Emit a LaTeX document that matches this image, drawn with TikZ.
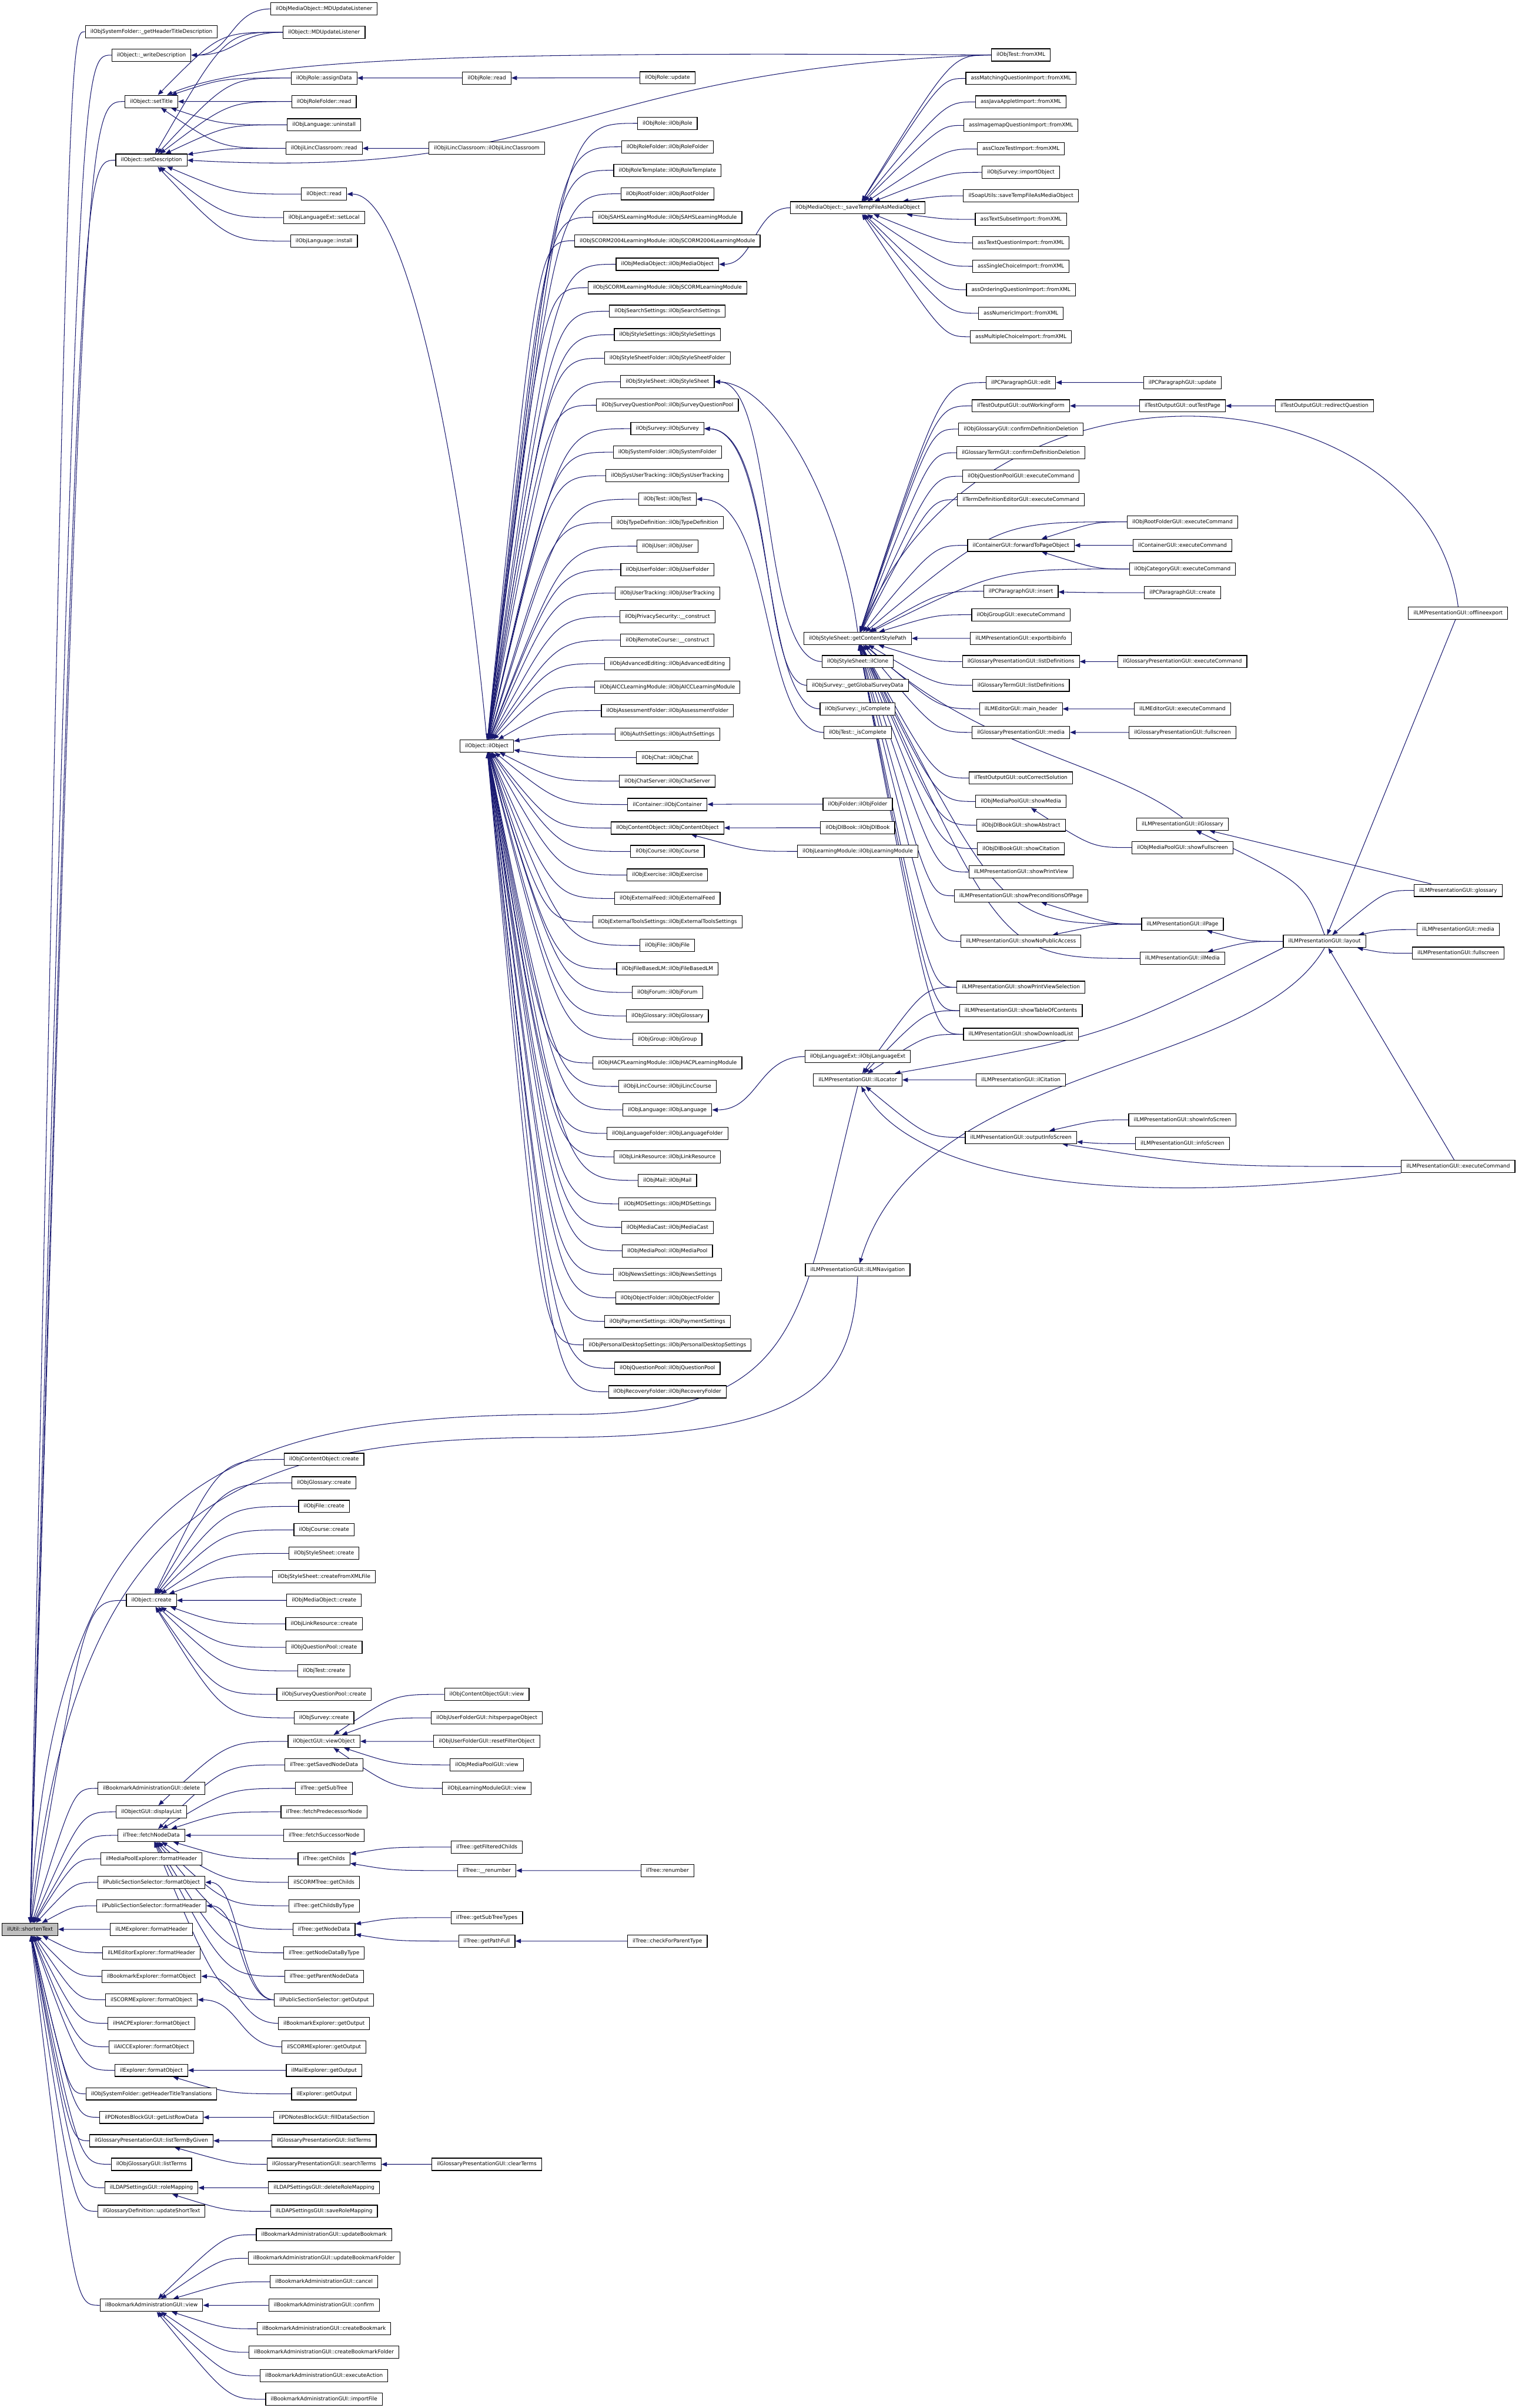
\documentclass[tikz,border=0pt]{standalone}
\usepackage{fontspec}
\usepackage{tikz}
\usetikzlibrary{arrows.meta,calc,backgrounds}
\newfontfamily\dxsans{DejaVu Sans}
\definecolor{dxEdge}{RGB}{25,25,112}
\definecolor{dxRoot}{RGB}{191,191,191}
\tikzset{
  fn/.style={draw=black, line width=0.45pt, fill=white, inner xsep=3.3pt, inner ysep=0pt,
    minimum height=8pt, text height=2.6pt, text depth=0.7pt,
    font=\dxsans\fontsize{3.4pt}{4pt}\selectfont},
  rootfn/.style={fn, fill=dxRoot},
  call/.style={dxEdge, line width=0.4pt, -{Triangle[length=3.6pt,width=2.8pt]}}
}

\begin{document}
\begin{tikzpicture}[x=1pt, y=-1pt]
  \useasboundingbox (0,0) rectangle (991,1568);

  % Root
  \node[rootfn] (root) at (19.5,1256.3) {ilUtil::shortenText};

  % Direct callers
  \node[fn] (sfh) at (98.6,20.6) {ilObjSystemFolder::\_getHeaderTitleDescription};
  \node[fn] (owd) at (98.6,35.9) {ilObject::\_writeDescription};
  \node[fn] (ost) at (98.6,66.1) {ilObject::setTitle};
  \node[fn] (osd) at (98.6,104.3) {ilObject::setDescription};
  \node[fn] (ocr) at (98.6,1042.1) {ilObject::create};
  \foreach \lbl [count=\i] in {ilBookmarkAdministrationGUI::delete, ilObjectGUI::displayList,
      ilTree::fetchNodeData, ilMediaPoolExplorer::formatHeader, ilPublicSectionSelector::formatObject,
      ilPublicSectionSelector::formatHeader, ilLMExplorer::formatHeader, ilLMEditorExplorer::formatHeader,
      ilBookmarkExplorer::formatObject, ilSCORMExplorer::formatObject, ilHACPExplorer::formatObject,
      ilAICCExplorer::formatObject, ilExplorer::formatObject, ilObjSystemFolder::getHeaderTitleTranslations,
      ilPDNotesBlockGUI::getListRowData, ilGlossaryPresentationGUI::listTermByGiven,
      ilObjGlossaryGUI::listTerms, ilLDAPSettingsGUI::roleMapping, ilGlossaryDefinition::updateShortText}
    \node[fn] (a\i) at (98.6,{950.3+(\i+13)*15.3}) {\lbl};
  \node[fn] (bav) at (98.6,1501.1) {ilBookmarkAdministrationGUI::view};

  % Second level, top
  \node[fn] (momd) at (211,5.8) {ilObjMediaObject::MDUpdateListener};
  \node[fn] (omd) at (211,21) {ilObject::MDUpdateListener};
  \node[fn] (rad) at (211,50.8) {ilObjRole::assignData};
  \node[fn] (rfr) at (211,66.1) {ilObjRoleFolder::read};
  \node[fn] (lun) at (211,81.3) {ilObjLanguage::uninstall};
  \node[fn] (lcr) at (211,96.6) {ilObjiLincClassroom::read};
  \node[fn] (ord) at (211,126.4) {ilObject::read};
  \node[fn] (lsl) at (211,141.7) {ilObjLanguageExt::setLocal};
  \node[fn] (lin) at (211,157) {ilObjLanguage::install};

  % Second level, bottom
  \foreach \lbl [count=\i] in {ilObjContentObject::create, ilObjGlossary::create, ilObjFile::create,
      ilObjCourse::create, ilObjStyleSheet::create, ilObjStyleSheet::createFromXMLFile,
      ilObjMediaObject::create, ilObjLinkResource::create, ilObjQuestionPool::create,
      ilObjTest::create, ilObjSurveyQuestionPool::create, ilObjSurvey::create}
    \node[fn] (k\i) at (211,{950.3+(\i-1)*15.3}) {\lbl};
  \node[fn] (gvo) at (211,1133.9) {ilObjectGUI::viewObject};
  \foreach \lbl [count=\i] in {ilTree::getSavedNodeData, ilTree::getSubTree, ilTree::fetchPredecessorNode,
      ilTree::fetchSuccessorNode, ilTree::getChilds, ilSCORMTree::getChilds, ilTree::getChildsByType,
      ilTree::getNodeData, ilTree::getNodeDataByType, ilTree::getParentNodeData}
    \node[fn] (t\i) at (211,{950.3+(\i+12)*15.3}) {\lbl};
  \foreach \lbl [count=\i] in {ilPublicSectionSelector::getOutput, ilBookmarkExplorer::getOutput,
      ilSCORMExplorer::getOutput, ilMailExplorer::getOutput, ilExplorer::getOutput,
      ilPDNotesBlockGUI::fillDataSection, ilGlossaryPresentationGUI::listTerms,
      ilGlossaryPresentationGUI::searchTerms, ilLDAPSettingsGUI::deleteRoleMapping,
      ilLDAPSettingsGUI::saveRoleMapping}
    \node[fn] (g\i) at (211,{950.3+(\i+22)*15.3}) {\lbl};
  \foreach \lbl [count=\i] in {updateBookmark, updateBookmarkFolder, cancel, confirm, createBookmark,
      createBookmarkFolder, executeAction, importFile}
    \node[fn] (b\i) at (211,{950.3+(\i+32)*15.3}) {ilBookmarkAdministrationGUI::\lbl};

  % Third level
  \node[fn] (rrd) at (317,50.8) {ilObjRole::read};
  \node[fn] (lcc) at (317,96.6) {ilObjiLincClassroom::ilObjiLincClassroom};
  \node[fn] (oo) at (317,485.7) {ilObject::ilObject};
  \foreach \lbl [count=\i] in {ilObjContentObjectGUI::view, ilObjUserFolderGUI::hitsperpageObject,
      ilObjUserFolderGUI::resetFilterObject, ilObjMediaPoolGUI::view, ilObjLearningModuleGUI::view}
    \node[fn] (v\i) at (317,{950.3+(\i+9)*15.3}) {\lbl};
  \node[fn] (tgf) at (317,1202.75) {ilTree::getFilteredChilds};
  \node[fn] (trn) at (317,1218.05) {ilTree::\_\_renumber};
  \node[fn] (tsb) at (317,1248.65) {ilTree::getSubTreeTypes};
  \node[fn] (tpf) at (317,1263.95) {ilTree::getPathFull};
  \node[fn] (gpct) at (317,1409.3) {ilGlossaryPresentationGUI::clearTerms};

  % Fourth level: constructors
  \node[fn] (rup) at (434.6,50.7) {ilObjRole::update};
  \foreach \lbl [count=\i] in {ilObjRole::ilObjRole, ilObjRoleFolder::ilObjRoleFolder,
      ilObjRoleTemplate::ilObjRoleTemplate, ilObjRootFolder::ilObjRootFolder,
      ilObjSAHSLearningModule::ilObjSAHSLearningModule,
      ilObjSCORM2004LearningModule::ilObjSCORM2004LearningModule,
      ilObjMediaObject::ilObjMediaObject, ilObjSCORMLearningModule::ilObjSCORMLearningModule,
      ilObjSearchSettings::ilObjSearchSettings, ilObjStyleSettings::ilObjStyleSettings,
      ilObjStyleSheetFolder::ilObjStyleSheetFolder, ilObjStyleSheet::ilObjStyleSheet,
      ilObjSurveyQuestionPool::ilObjSurveyQuestionPool, ilObjSurvey::ilObjSurvey,
      ilObjSystemFolder::ilObjSystemFolder, ilObjSysUserTracking::ilObjSysUserTracking,
      ilObjTest::ilObjTest, ilObjTypeDefinition::ilObjTypeDefinition, ilObjUser::ilObjUser,
      ilObjUserFolder::ilObjUserFolder, ilObjUserTracking::ilObjUserTracking,
      ilObjPrivacySecurity::\_\_construct, ilObjRemoteCourse::\_\_construct,
      ilObjAdvancedEditing::ilObjAdvancedEditing, ilObjAICCLearningModule::ilObjAICCLearningModule,
      ilObjAssessmentFolder::ilObjAssessmentFolder, ilObjAuthSettings::ilObjAuthSettings,
      ilObjChat::ilObjChat, ilObjChatServer::ilObjChatServer, ilContainer::ilObjContainer,
      ilObjContentObject::ilObjContentObject, ilObjCourse::ilObjCourse, ilObjExercise::ilObjExercise,
      ilObjExternalFeed::ilObjExternalFeed, ilObjExternalToolsSettings::ilObjExternalToolsSettings,
      ilObjFile::ilObjFile, ilObjFileBasedLM::ilObjFileBasedLM, ilObjForum::ilObjForum,
      ilObjGlossary::ilObjGlossary, ilObjGroup::ilObjGroup,
      ilObjHACPLearningModule::ilObjHACPLearningModule, ilObjiLincCourse::ilObjiLincCourse,
      ilObjLanguage::ilObjLanguage, ilObjLanguageFolder::ilObjLanguageFolder,
      ilObjLinkResource::ilObjLinkResource, ilObjMail::ilObjMail, ilObjMDSettings::ilObjMDSettings,
      ilObjMediaCast::ilObjMediaCast, ilObjMediaPool::ilObjMediaPool,
      ilObjNewsSettings::ilObjNewsSettings, ilObjObjectFolder::ilObjObjectFolder,
      ilObjPaymentSettings::ilObjPaymentSettings,
      ilObjPersonalDesktopSettings::ilObjPersonalDesktopSettings,
      ilObjQuestionPool::ilObjQuestionPool, ilObjRecoveryFolder::ilObjRecoveryFolder}
    \node[fn] (c\i) at (434.6,{80.3+(\i-1)*15.296}) {\lbl};
  \node[fn] (trr) at (434.6,1218.05) {ilTree::renumber};
  \node[fn] (tcp) at (434.6,1263.95) {ilTree::checkForParentType};

  % Fifth level
  \node[fn] (smo) at (558.5,135.3) {ilObjMediaObject::\_saveTempFileAsMediaObject};
  \node[fn] (csp) at (558.5,415.7) {ilObjStyleSheet::getContentStylePath};
  \node[fn] (scl) at (558.5,430.8) {ilObjStyleSheet::ilClone};
  \node[fn] (sgs) at (558.5,446.2) {ilObjSurvey::\_getGlobalSurveyData};
  \node[fn] (sic) at (558.5,461.6) {ilObjSurvey::\_isComplete};
  \node[fn] (tic) at (558.5,476.9) {ilObjTest::\_isComplete};
  \node[fn] (ofo) at (558.5,523.6) {ilObjFolder::ilObjFolder};
  \node[fn] (odb) at (558.5,539) {ilObjDlBook::ilObjDlBook};
  \node[fn] (olm) at (558.5,554.4) {ilObjLearningModule::ilObjLearningModule};
  \node[fn] (lxe) at (558.5,688) {ilObjLanguageExt::ilObjLanguageExt};
  \node[fn] (loc) at (558.5,703.2) {ilLMPresentationGUI::ilLocator};
  \node[fn] (nav) at (558.5,827) {ilLMPresentationGUI::ilLMNavigation};

  % Sixth level
  \foreach \lbl [count=\i] in {ilObjTest::fromXML, assMatchingQuestionImport::fromXML,
      assJavaAppletImport::fromXML, assImagemapQuestionImport::fromXML, assClozeTestImport::fromXML,
      ilObjSurvey::importObject, ilSoapUtils::saveTempFileAsMediaObject, assTextSubsetImport::fromXML,
      assTextQuestionImport::fromXML, assSingleChoiceImport::fromXML,
      assOrderingQuestionImport::fromXML, assNumericImport::fromXML, assMultipleChoiceImport::fromXML}
    \node[fn] (x\i) at (664.8,{35.8+(\i-1)*15.29}) {\lbl};
  \node[fn] (pce) at (664.8,249.1) {ilPCParagraphGUI::edit};
  \node[fn] (owf) at (664.8,264.3) {ilTestOutputGUI::outWorkingForm};
  \node[fn] (gcd) at (664.8,279.4) {ilObjGlossaryGUI::confirmDefinitionDeletion};
  \node[fn] (tcd) at (664.8,294.8) {ilGlossaryTermGUI::confirmDefinitionDeletion};
  \node[fn] (qpe) at (664.8,310.1) {ilObjQuestionPoolGUI::executeCommand};
  \node[fn] (tde) at (664.8,325.3) {ilTermDefinitionEditorGUI::executeCommand};
  \node[fn] (ftp) at (664.8,355.1) {ilContainerGUI::forwardToPageObject};
  \node[fn] (pci) at (664.8,385) {ilPCParagraphGUI::insert};
  \node[fn] (gre) at (664.8,400.3) {ilObjGroupGUI::executeCommand};
  \node[fn] (ebi) at (664.8,415.7) {ilLMPresentationGUI::exportbibinfo};
  \node[fn] (gpld) at (664.8,430.8) {ilGlossaryPresentationGUI::listDefinitions};
  \node[fn] (gtld) at (664.8,446.2) {ilGlossaryTermGUI::listDefinitions};
  \node[fn] (lmh) at (664.8,461.6) {ilLMEditorGUI::main\_header};
  \node[fn] (gpm) at (664.8,476.9) {ilGlossaryPresentationGUI::media};
  \node[fn] (ocs) at (664.8,506.6) {ilTestOutputGUI::outCorrectSolution};
  \node[fn] (mps) at (664.8,521.9) {ilObjMediaPoolGUI::showMedia};
  \node[fn] (dba) at (664.8,537.3) {ilObjDlBookGUI::showAbstract};
  \node[fn] (dbc) at (664.8,552.6) {ilObjDlBookGUI::showCitation};
  \node[fn] (spv) at (664.8,567.8) {ilLMPresentationGUI::showPrintView};
  \node[fn] (spp) at (664.8,583.3) {ilLMPresentationGUI::showPreconditionsOfPage};
  \node[fn] (snp) at (664.8,613) {ilLMPresentationGUI::showNoPublicAccess};
  \node[fn] (svs) at (664.8,642.9) {ilLMPresentationGUI::showPrintViewSelection};
  \node[fn] (stc) at (664.8,658.1) {ilLMPresentationGUI::showTableOfContents};
  \node[fn] (sdl) at (664.8,673.5) {ilLMPresentationGUI::showDownloadList};
  \node[fn] (cit) at (664.8,703.2) {ilLMPresentationGUI::ilCitation};
  \node[fn] (ois) at (664.8,740.6) {ilLMPresentationGUI::outputInfoScreen};

  % Seventh level
  \node[fn] (pcu) at (770,249.1) {ilPCParagraphGUI::update};
  \node[fn] (otp) at (770,264.3) {ilTestOutputGUI::outTestPage};
  \node[fn] (rfe) at (770,339.8) {ilObjRootFolderGUI::executeCommand};
  \node[fn] (cge) at (770,355.1) {ilContainerGUI::executeCommand};
  \node[fn] (cae) at (770,370.5) {ilObjCategoryGUI::executeCommand};
  \node[fn] (pcc) at (770,385.9) {ilPCParagraphGUI::create};
  \node[fn] (gpe) at (770,430.8) {ilGlossaryPresentationGUI::executeCommand};
  \node[fn] (lee) at (770,461.6) {ilLMEditorGUI::executeCommand};
  \node[fn] (gpf) at (770,476.9) {ilGlossaryPresentationGUI::fullscreen};
  \node[fn] (lpg) at (770,536.6) {ilLMPresentationGUI::ilGlossary};
  \node[fn] (mpf) at (770,551.9) {ilObjMediaPoolGUI::showFullscreen};
  \node[fn] (lpp) at (770,601.7) {ilLMPresentationGUI::ilPage};
  \node[fn] (lpm) at (770,624.1) {ilLMPresentationGUI::ilMedia};
  \node[fn] (sis) at (770,729.2) {ilLMPresentationGUI::showInfoScreen};
  \node[fn] (lis) at (770,744.7) {ilLMPresentationGUI::infoScreen};
  \node[fn] (rdq) at (862.5,264.3) {ilTestOutputGUI::redirectQuestion};
  \node[fn] (lay) at (862.5,613) {ilLMPresentationGUI::layout};

  % Eighth level
  \node[fn] (off) at (949.5,399.2) {ilLMPresentationGUI::offlineexport};
  \node[fn] (glo) at (949.5,579.8) {ilLMPresentationGUI::glossary};
  \node[fn] (med) at (949.5,605.3) {ilLMPresentationGUI::media};
  \node[fn] (ful) at (949.5,620.7) {ilLMPresentationGUI::fullscreen};
  \node[fn] (exe) at (949.5,759.6) {ilLMPresentationGUI::executeCommand};

  % Calls
  \begin{scope}[on background layer]
    \foreach \src in {sfh,owd,ost,osd,ocr,bav,a1,a2,a3,a4,a5,a6,a7,a8,a9,a10,a11,a12,a13,a14,a15,a16,a17,a18,a19}
      \draw[call] (\src.west) .. controls ($(\src.west)!0.6!(root.east |- \src.west)$) .. (root);
    \foreach \i in {1,...,55}
      \draw[call] (c\i.west) .. controls ($(c\i.west)!0.6!(oo.east |- c\i.west)$) .. (oo);
    \foreach \i in {1,...,13}
      \draw[call] (x\i.west) .. controls ($(x\i.west)!0.6!(smo.east |- x\i.west)$) .. (smo);
    \foreach \i in {1,...,12}
      \draw[call] (k\i.west) .. controls ($(k\i.west)!0.6!(ocr.east |- k\i.west)$) .. (ocr);
    \foreach \i in {1,...,8}
      \draw[call] (b\i.west) .. controls ($(b\i.west)!0.6!(bav.east |- b\i.west)$) .. (bav);
    \foreach \i in {1,...,10}
      \draw[call] (t\i.west) .. controls ($(t\i.west)!0.6!(a3.east |- t\i.west)$) .. (a3);
    \foreach \i in {1,...,5}
      \draw[call] (v\i.west) .. controls ($(v\i.west)!0.6!(gvo.east |- v\i.west)$) .. (gvo);
    \foreach \src in {pce,owf,gcd,tcd,qpe,tde,rfe,ftp,cae,pci,gre,ebi,gpld,gtld,lmh,gpm,
        ocs,mps,dba,dbc,spv,spp,lpp,snp,lpm,svs,stc,sdl}
      \draw[call] (\src.west) .. controls ($(\src.west)!0.6!(csp.east |- \src.west)$) .. (csp);
    \foreach \src/\dst in {omd/ost, omd/osd, rad/ost, rad/osd, rfr/ost, rfr/osd, lun/ost, lun/osd,
        lcr/ost, lcr/osd, ord/osd, lsl/osd, lin/osd, rrd/rad, rup/rrd, lcc/lcr,
        ofo/c30, odb/c31, olm/c31, pcu/pce, otp/owf, rdq/otp, rfe/ftp, cge/ftp, cae/ftp,
        pcc/pci, gpe/gpld, lee/lmh, gpf/gpm, mpf/mps, lpp/spp, lpp/snp, lay/lpp, lay/lpm,
        glo/lay, med/lay, ful/lay, svs/loc, stc/loc, sdl/loc, cit/loc, ois/loc,
        sis/ois, lis/ois, exe/ois, gvo/a2, g1/a3, tgf/t5, trn/t5, trr/trn, tsb/t8, tpf/t8,
        tcp/tpf, g4/a13, g5/a13, g6/a15, g7/a16, g8/a16, gpct/g8, g9/a18, g10/a18}
      \draw[call] (\src.west) .. controls ($(\src.west)!0.6!(\dst.east |- \src.west)$) .. (\dst);
    \foreach \src/\dst in {momd/owd, omd/owd, g1/a5, g1/a6, g2/a9, g3/a10, smo/c7, lxe/c43}
      \draw[call] (\src.west) .. controls ($(\src.west)!0.5!(\dst.east |- \src.west)$)
        and ($(\dst.east)!0.5!(\src.west |- \dst.east)$) .. (\dst.east);
    % long connectors
    \draw[call] (x1.west) .. controls (330,34) and (170,36) .. (ost);
    \draw[call] (x1.west) .. controls (370,45) and (370,118) .. (osd.east);
    \draw[call] (oo.north) .. controls (300,300) and (265,126) .. (ord.east);
    \draw[call] (csp.north) .. controls (548,330) and (505,250) .. (c12.east);
    \draw[call] (scl.west) .. controls (495,430) and (505,250) .. (c12.east);
    \draw[call] (sgs.west) .. controls (495,446) and (505,280) .. (c14.east);
    \draw[call] (sic.west) .. controls (495,461) and (505,280) .. (c14.east);
    \draw[call] (tic.west) .. controls (495,477) and (505,325) .. (c17.east);
    \draw[call] (lpg.north) .. controls (720,495) and (640,490) .. (csp);
    \draw[call] (off.north) .. controls (930,240) and (640,215) .. (csp);
    \draw[call] (off) -- (lay);
    \draw[call] (exe) -- (lay);
    \draw[call] (glo) -- (lpg);
    \draw[call] (lay.north) .. controls (850,575) .. (lpg);
    \draw[call] (lay.south) .. controls (815,700) and (600,690) .. (nav);
    \draw[call] (lay.south west) .. controls (720,675) .. (loc);
    \draw[call] (exe.south west) .. controls (700,790) and (590,760) .. (loc);
    \draw[call] (loc.south) .. controls (520,860) and (525,921) .. (370,921)
      .. controls (150,921) and (35,960) .. (root);
    \draw[call] (nav.south) .. controls (555,900) and (530,936) .. (360,936)
      .. controls (150,936) and (50,980) .. (root);
  \end{scope}
\end{tikzpicture}
\end{document}
